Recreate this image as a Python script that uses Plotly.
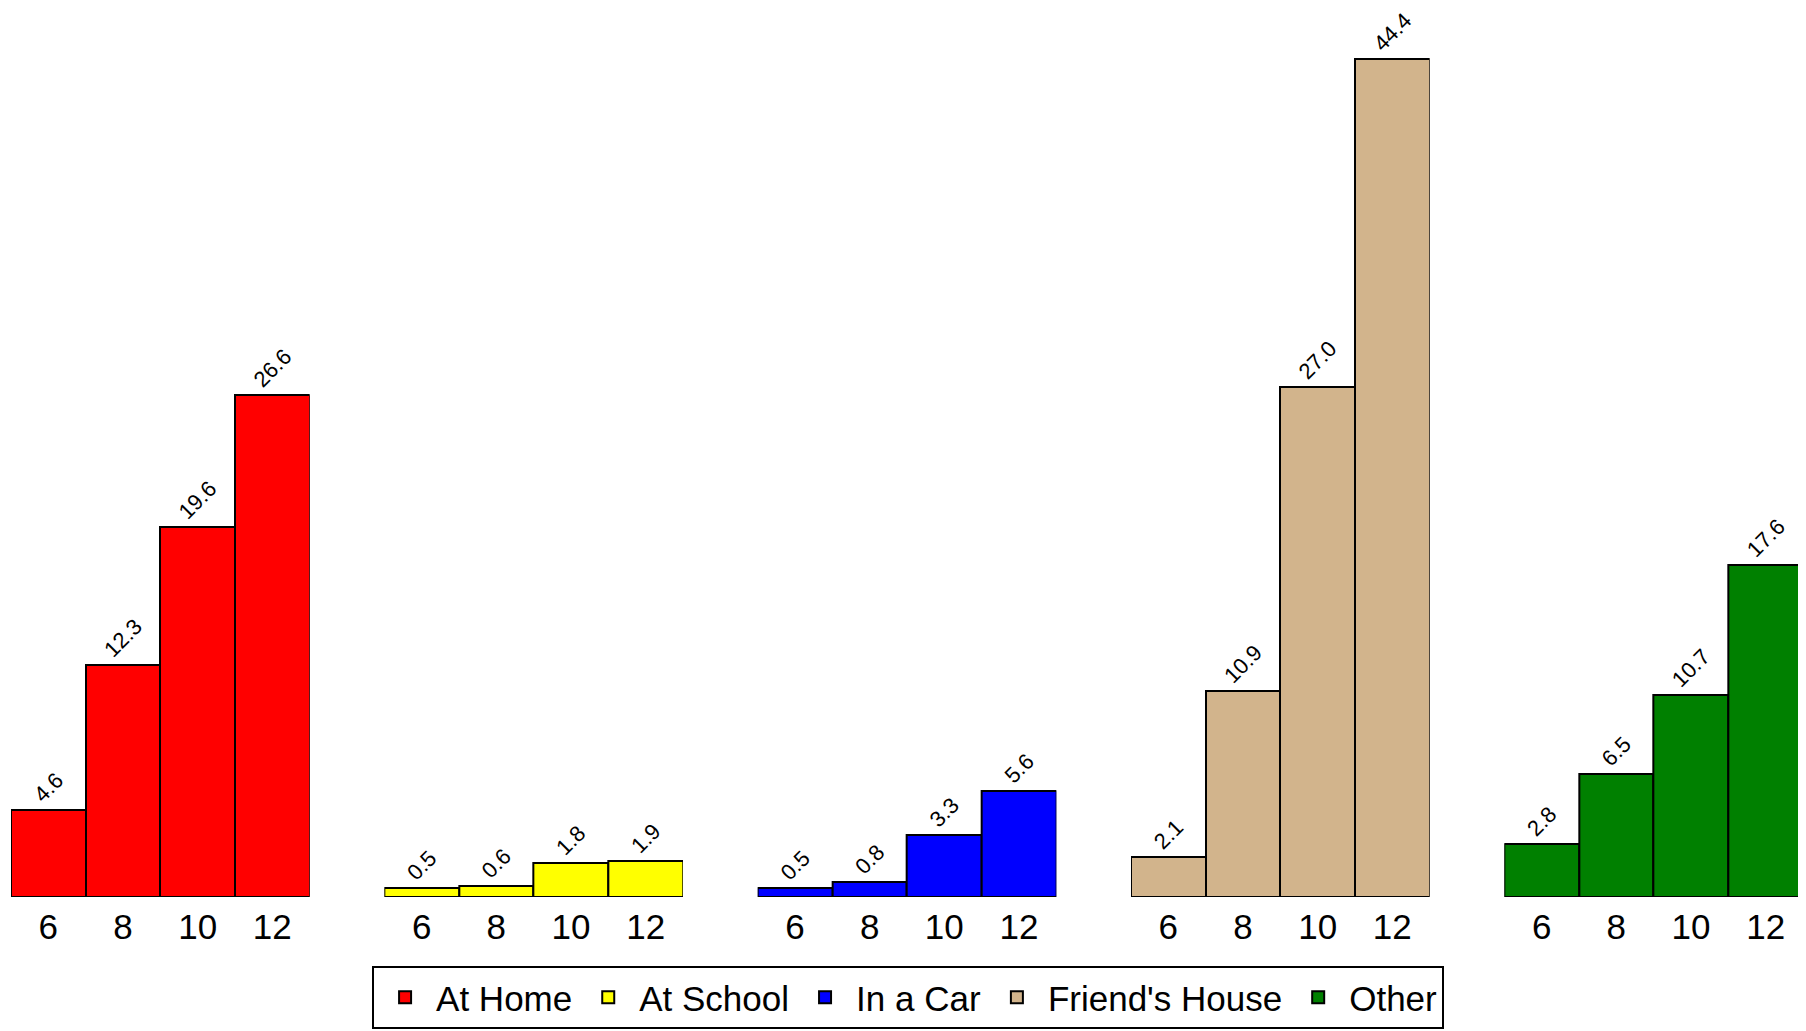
import plotly.graph_objects as go
from plotly.subplots import make_subplots

ages = ["6", "8", "10", "12"]
locations = ["At Home", "At School", "In a Car", "Friend's House", "Other"]
at_home = [4.6, 12.3, 19.6, 26.6]
at_school = [0.5, 0.6, 1.8, 1.9]
in_a_car = [0.5, 0.8, 3.3, 5.6]
friends_house = [2.1, 10.9, 27.0, 44.4]
other = [2.8, 6.5, 10.7, 17.6]
series = [at_home, at_school, in_a_car, friends_house, other]
colors = ["#FF0000", "#FFFF00", "#0000FF", "#D2B48C", "#008000"]

FONT = "Liberation Sans, Arial, sans-serif"

fig = make_subplots(rows=1, cols=5, shared_yaxes=True, horizontal_spacing=1 / 24)

for i, (name, vals, col) in enumerate(zip(locations, series, colors)):
    fig.add_trace(
        go.Bar(
            x=ages,
            y=vals,
            name=name,
            marker=dict(color=col, line=dict(color="black", width=2)),
            text=[f"{v:.1f}" for v in vals],
            textposition="outside",
            textangle=-45,
            textfont=dict(family=FONT, size=22, color="black"),
            cliponaxis=False,
        ),
        row=1,
        col=i + 1,
    )

fig.update_xaxes(
    type="category",
    showgrid=False,
    zeroline=False,
    showline=False,
    ticks="",
    automargin=False,
    ticklabelstandoff=6,
    tickfont=dict(family=FONT, size=35, color="black"),
)
fig.update_yaxes(
    range=[0, 47],
    showgrid=False,
    zeroline=False,
    showline=False,
    showticklabels=False,
    ticks="",
    automargin=False,
)

fig.update_layout(
    width=1798,
    height=1023,
    margin=dict(l=3, r=3, t=2, b=134, autoexpand=False),
    paper_bgcolor="white",
    plot_bgcolor="white",
    bargap=0,
    font=dict(family=FONT, color="black"),
    showlegend=True,
    legend=dict(
        orientation="h",
        xref="container",
        yref="container",
        x=0.5006,
        xanchor="center",
        y=0.002,
        yanchor="bottom",
        font=dict(family=FONT, size=35, color="black"),
        bordercolor="black",
        borderwidth=2,
        bgcolor="white",
        itemwidth=52,
        traceorder="normal",
    ),
)

fig.write_html("out.html")
